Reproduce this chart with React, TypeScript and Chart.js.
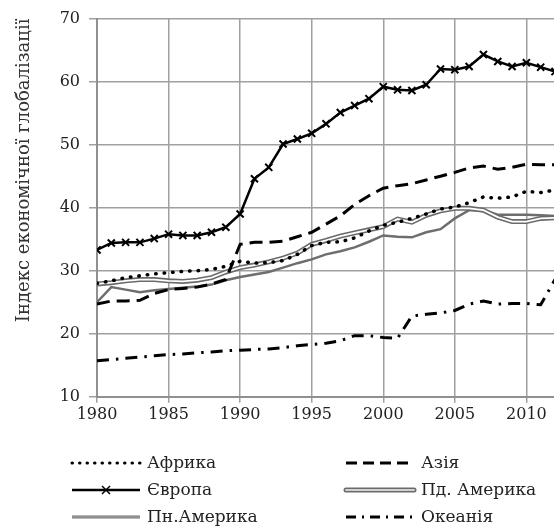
import React, { useEffect, useRef } from "react";
import { Chart, registerables } from "chart.js";

Chart.register(...registerables);

const years = [
  1980, 1981, 1982, 1983, 1984, 1985, 1986, 1987, 1988, 1989,
  1990, 1991, 1992, 1993, 1994, 1995, 1996, 1997, 1998, 1999,
  2000, 2001, 2002, 2003, 2004, 2005, 2006, 2007, 2008, 2009,
  2010, 2011, 2012,
];

const africa = [
  28.0, 28.4, 28.9, 29.2, 29.5, 29.7, 29.9, 30.0, 30.2, 30.7,
  31.5, 31.2, 31.3, 31.6, 32.6, 34.0, 34.5, 34.6, 35.2, 36.3,
  37.2, 37.7, 38.3, 39.0, 39.8, 40.1, 40.8, 41.7, 41.5, 41.7,
  42.6, 42.4, 42.8,
];

const asia = [
  24.7, 25.2, 25.2, 25.3, 26.4, 27.0, 27.2, 27.4, 27.9, 28.6,
  34.2, 34.5, 34.5, 34.7, 35.4, 36.1, 37.4, 38.7, 40.5, 41.9,
  43.1, 43.5, 43.8, 44.4, 45.0, 45.6, 46.3, 46.6, 46.1, 46.4,
  46.9, 46.8, 46.8,
];

const europe = [
  33.3, 34.4, 34.5, 34.5, 35.1, 35.8, 35.6, 35.6, 36.1, 36.9,
  39.0, 44.6, 46.4, 50.1, 50.9, 51.8, 53.3, 55.1, 56.2, 57.3,
  59.2, 58.7, 58.6, 59.5, 62.0, 61.9, 62.4, 64.3, 63.2, 62.4,
  63.0, 62.3, 61.6,
];

const southAmerica = [
  27.9, 28.1, 28.4, 28.6, 28.6, 28.4, 28.3, 28.5, 28.9, 29.8,
  30.5, 30.9, 31.4, 32.0, 32.8, 34.2, 34.8, 35.5, 36.0, 36.5,
  37.0, 38.2, 37.7, 38.8, 39.5, 39.9, 39.9, 39.6, 38.5, 37.8,
  37.8, 38.3, 38.4,
];

const northAmerica = [
  25.0, 27.4, 27.0, 26.6, 26.9, 27.1, 27.3, 27.5, 27.8, 28.5,
  29.0, 29.4, 29.8, 30.5, 31.2, 31.8, 32.6, 33.1, 33.7, 34.6,
  35.6, 35.4, 35.3, 36.1, 36.6, 38.3, 39.6, 39.6, 38.9, 38.9,
  38.9, 38.8, 38.7,
];

const oceania = [
  15.7, 15.9, 16.1, 16.3, 16.5, 16.7, 16.8, 17.0, 17.1, 17.3,
  17.4, 17.5, 17.6, 17.8, 18.1, 18.3, 18.5, 18.9, 19.7, 19.7,
  19.4, 19.3, 22.8, 23.1, 23.3, 23.7, 24.7, 25.2, 24.7, 24.8,
  24.8, 24.6, 28.6,
];

const seriesLabels = ["Африка", "Азія", "Європа", "Пд. Америка", "Пн.Америка", "Океанія"];
const yTitle = "Індекс економічної глобалізації";
const yTicks = [10, 20, 30, 40, 50, 60, 70];
const xTicks = [1980, 1985, 1990, 1995, 2000, 2005, 2010];

const FONT = '"DejaVu Serif", serif';
const GRID = "#a0a0a0";

const toPts = (arr: number[]) => arr.map((v, i) => ({ x: years[i], y: v }));

function drawSample(ctx: CanvasRenderingContext2D, key: number, x0: number, x1: number, y: number) {
  ctx.save();
  ctx.lineCap = "butt";
  if (key === 0) {
    ctx.strokeStyle = "#000";
    ctx.lineWidth = 3;
    ctx.lineCap = "round";
    ctx.setLineDash([0.5, 7]);
    ctx.beginPath(); ctx.moveTo(x0, y); ctx.lineTo(x1, y); ctx.stroke();
  } else if (key === 1) {
    ctx.strokeStyle = "#000";
    ctx.lineWidth = 3;
    ctx.setLineDash([11, 6]);
    ctx.beginPath(); ctx.moveTo(x0, y); ctx.lineTo(x1, y); ctx.stroke();
  } else if (key === 2) {
    ctx.strokeStyle = "#000";
    ctx.lineWidth = 2.5;
    ctx.beginPath(); ctx.moveTo(x0, y); ctx.lineTo(x1, y); ctx.stroke();
    const cx = (x0 + x1) / 2;
    ctx.lineWidth = 1.5;
    ctx.beginPath();
    ctx.moveTo(cx - 4, y - 4); ctx.lineTo(cx + 4, y + 4);
    ctx.moveTo(cx - 4, y + 4); ctx.lineTo(cx + 4, y - 4);
    ctx.stroke();
  } else if (key === 3) {
    ctx.lineCap = "round";
    ctx.strokeStyle = "#6a6a6a";
    ctx.lineWidth = 5;
    ctx.beginPath(); ctx.moveTo(x0, y); ctx.lineTo(x1, y); ctx.stroke();
    ctx.strokeStyle = "#d0d0d0";
    ctx.lineWidth = 2;
    ctx.beginPath(); ctx.moveTo(x0, y); ctx.lineTo(x1, y); ctx.stroke();
  } else if (key === 4) {
    ctx.strokeStyle = "#6e6e6e";
    ctx.lineWidth = 3;
    ctx.beginPath(); ctx.moveTo(x0, y); ctx.lineTo(x1, y); ctx.stroke();
    ctx.strokeStyle = "#b0b0b0";
    ctx.lineWidth = 1;
    ctx.beginPath(); ctx.moveTo(x0, y); ctx.lineTo(x1, y); ctx.stroke();
  } else {
    ctx.strokeStyle = "#000";
    ctx.lineWidth = 3;
    ctx.setLineDash([10, 6, 2, 6]);
    ctx.beginPath(); ctx.moveTo(x0, y); ctx.lineTo(x1, y); ctx.stroke();
  }
  ctx.restore();
}

const legendPlugin = {
  id: "customLegend",
  afterDraw(chart: any) {
    const ctx: CanvasRenderingContext2D = chart.ctx;
    const rows = [463, 490, 517];
    const cols = [
      { x0: 72, x1: 140 },
      { x0: 346, x1: 414 },
    ];
    const order = [0, 1, 2, 3, 4, 5];
    order.forEach((key, idx) => {
      const col = cols[idx % 2];
      const y = rows[Math.floor(idx / 2)];
      drawSample(ctx, key, col.x0, col.x1, y);
      ctx.save();
      ctx.fillStyle = "#222";
      ctx.font = `17px ${FONT}`;
      ctx.textBaseline = "middle";
      ctx.textAlign = "left";
      ctx.fillText(seriesLabels[key], col.x1 + 7, y + 1);
      ctx.restore();
    });
  },
};

export default function App() {
  const ref = useRef<HTMLCanvasElement | null>(null);
  useEffect(() => {
    if (!ref.current) return;
    const chart = new Chart(ref.current, {
      type: "line",
      data: {
        datasets: [
          {
            label: seriesLabels[0],
            data: toPts(africa),
            borderColor: "#000",
            borderWidth: 3.5,
            borderDash: [0.5, 8],
            borderCapStyle: "round",
            pointRadius: 0,
            order: 1,
          },
          {
            label: seriesLabels[1],
            data: toPts(asia),
            borderColor: "#000",
            borderWidth: 3,
            borderDash: [13, 7],
            pointRadius: 0,
            order: 2,
          },
          {
            label: seriesLabels[2],
            data: toPts(europe),
            borderColor: "#000",
            borderWidth: 2.5,
            pointStyle: "crossRot",
            pointRadius: 5,
            pointBorderWidth: 2,
            pointBorderColor: "#000",
            order: 0,
          },
          {
            label: seriesLabels[3],
            data: toPts(southAmerica),
            borderColor: "#6a6a6a",
            borderWidth: 5,
            pointRadius: 0,
            order: 5,
          },
          {
            label: seriesLabels[3] + "-inner",
            data: toPts(southAmerica),
            borderColor: "#ffffff",
            borderWidth: 1.8,
            pointRadius: 0,
            order: 4,
          },
          {
            label: seriesLabels[4],
            data: toPts(northAmerica),
            borderColor: "#6e6e6e",
            borderWidth: 2.5,
            pointRadius: 0,
            order: 6,
          },
          {
            label: seriesLabels[5],
            data: toPts(oceania),
            borderColor: "#000",
            borderWidth: 3,
            borderDash: [12, 7, 2.5, 7],
            pointRadius: 0,
            order: 3,
          },
        ],
      },
      options: {
        responsive: true,
        maintainAspectRatio: false,
        animation: false,
        layout: { padding: { top: 10, right: 0, bottom: 102, left: 6 } },
        plugins: {
          legend: { display: false },
          tooltip: { enabled: false },
        },
        scales: {
          x: {
            type: "linear",
            min: years[0],
            max: years[years.length - 1],
            afterBuildTicks: (scale: any) => {
              scale.ticks = xTicks.map((v) => ({ value: v }));
            },
            ticks: {
              includeBounds: false,
              autoSkip: false,
              color: "#222",
              font: { family: FONT, size: 16 },
              padding: 2,
              maxRotation: 0,
              callback: (v: any) => String(v),
            },
            grid: { color: GRID, lineWidth: 1.5, tickLength: 6, tickColor: GRID },
            border: { color: "#909090", width: 2 },
          },
          y: {
            min: yTicks[0],
            max: yTicks[yTicks.length - 1],
            afterBuildTicks: (scale: any) => {
              scale.ticks = yTicks.map((v) => ({ value: v }));
            },
            afterFit: (scale: any) => {
              scale.width = 91;
            },
            ticks: {
              color: "#222",
              font: { family: FONT, size: 16 },
              padding: 9,
            },
            grid: { color: GRID, lineWidth: 1.5, tickLength: 8, tickColor: GRID },
            border: { color: "#909090", width: 2 },
            title: {
              display: true,
              text: yTitle,
              align: "end",
              color: "#333",
              font: { family: FONT, size: 18 },
              padding: { top: 8, bottom: 4 },
            },
          },
        },
      },
      plugins: [legendPlugin],
    } as any);
    return () => chart.destroy();
  }, []);

  return (
    <div style={{ position: "fixed", left: 0, top: 0, width: 562, height: 528, background: "#fff" }}>
      <canvas ref={ref} />
    </div>
  );
}
